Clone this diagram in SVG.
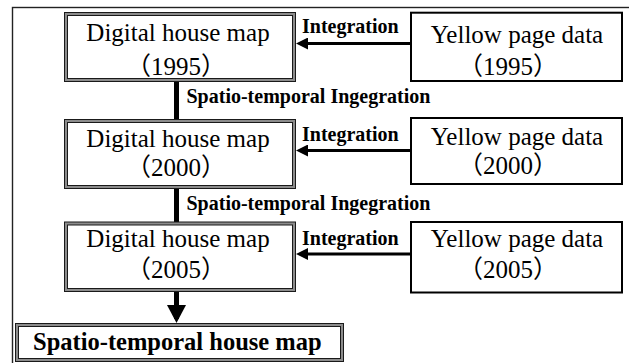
<svg xmlns="http://www.w3.org/2000/svg" width="629" height="363" viewBox="0 0 629 363">
  <style>
    .t{font-family:"Liberation Serif","Times New Roman",serif;fill:#000}
    .big{font-size:25px}
    .yr{font-family:"Liberation Serif","Noto Sans CJK SC",serif;font-size:25px;fill:#000}
    .lbl{font-size:20px;font-weight:bold}
    .box{fill:#fff;stroke:#000;stroke-width:2}
    .dbl-o{fill:#8c8c8c;stroke:#1a1a1a;stroke-width:1}
    .dbl-i{fill:#fff;stroke:#1a1a1a;stroke-width:1}
    .frame{fill:none;stroke:#222;stroke-width:1.4}
    .link{stroke:#000;fill:none}
  </style>
  <defs>
    <marker id="ah" markerUnits="userSpaceOnUse" markerWidth="12" markerHeight="12" refX="8" refY="6" orient="auto">
      <path d="M0,0 L12,6 L0,12 z" fill="#000"/>
    </marker>
    <marker id="av" markerUnits="userSpaceOnUse" markerWidth="18" markerHeight="19" refX="14" refY="9.5" orient="auto">
      <path d="M0,0 L18,9.5 L0,19 z" fill="#000"/>
    </marker>
  </defs>

  <rect width="629" height="363" fill="#fff"/>
  <!-- page frame (top and left edges visible) -->
  <rect class="frame" x="12.5" y="7.5" width="640" height="380"/>

  <!-- connectors -->
  <g id="connectors">
    <line class="link" x1="411" y1="43.5" x2="300" y2="43.5" stroke-width="3" marker-end="url(#ah)"/>
    <line class="link" x1="411" y1="150.5" x2="300" y2="150.5" stroke-width="3" marker-end="url(#ah)"/>
    <line class="link" x1="411" y1="254" x2="300" y2="254" stroke-width="3" marker-end="url(#ah)"/>
    <line class="link" x1="176.5" y1="81.5" x2="176.5" y2="119" stroke-width="5"/>
    <line class="link" x1="176.5" y1="188" x2="176.5" y2="222" stroke-width="5"/>
    <line class="link" x1="176.5" y1="291.5" x2="176.5" y2="319" stroke-width="5" marker-end="url(#av)"/>
    <text class="t lbl" x="302" y="33.3">Integration</text>
    <text class="t lbl" x="302" y="140.5">Integration</text>
    <text class="t lbl" x="302" y="244.5">Integration</text>
    <text class="t lbl" x="186.5" y="103" font-size="20.5">Spatio-temporal Ingegration</text>
    <text class="t lbl" x="186.5" y="209.5" font-size="20.5">Spatio-temporal Ingegration</text>
  </g>

  <!-- digital house map 1995 -->
  <g id="dhm1995">
    <rect class="dbl-o" x="64.5" y="12.5" width="231" height="69"/>
    <rect class="dbl-i" x="67.5" y="15.5" width="225" height="63"/>
    <text class="t big" x="178" y="40.7" text-anchor="middle">Digital house map</text>
    <text class="yr" x="176" y="74.5" text-anchor="middle">（1995）</text>
  </g>

  <!-- yellow page data 1995 -->
  <g id="ypd1995">
    <rect class="box" x="411" y="12.7" width="211" height="68.3"/>
    <text class="t big" x="517" y="42.5" text-anchor="middle">Yellow page data</text>
    <text class="yr" x="508" y="75" text-anchor="middle">（1995）</text>
  </g>

  <!-- digital house map 2000 -->
  <g id="dhm2000">
    <rect class="dbl-o" x="64.5" y="119.5" width="231" height="69"/>
    <rect class="dbl-i" x="67.5" y="122.5" width="225" height="63"/>
    <text class="t big" x="178" y="146.7" text-anchor="middle">Digital house map</text>
    <text class="yr" x="176" y="175.5" text-anchor="middle">（2000）</text>
  </g>

  <!-- yellow page data 2000 -->
  <g id="ypd2000">
    <rect class="box" x="411" y="118" width="211" height="66"/>
    <text class="t big" x="517" y="145" text-anchor="middle">Yellow page data</text>
    <text class="yr" x="508" y="173.5" text-anchor="middle">（2000）</text>
  </g>

  <!-- digital house map 2005 -->
  <g id="dhm2005">
    <rect class="dbl-o" x="64.5" y="222" width="231" height="69.5"/>
    <rect class="dbl-i" x="67.5" y="225" width="225" height="63.5"/>
    <text class="t big" x="178" y="247" text-anchor="middle">Digital house map</text>
    <text class="yr" x="176" y="278.3" text-anchor="middle">（2005）</text>
  </g>

  <!-- yellow page data 2005 -->
  <g id="ypd2005">
    <rect class="box" x="411" y="222" width="211" height="70.5"/>
    <text class="t big" x="517" y="246.5" text-anchor="middle">Yellow page data</text>
    <text class="yr" x="508" y="278.3" text-anchor="middle">（2005）</text>
  </g>

  <!-- spatio-temporal house map -->
  <g id="sthm">
    <rect class="dbl-o" x="15.5" y="323.5" width="328" height="38"/>
    <rect class="dbl-i" x="18.5" y="326.5" width="322" height="32"/>
    <text class="t" x="33" y="350" font-size="24.5" font-weight="bold">Spatio-temporal house map</text>
  </g>
</svg>
